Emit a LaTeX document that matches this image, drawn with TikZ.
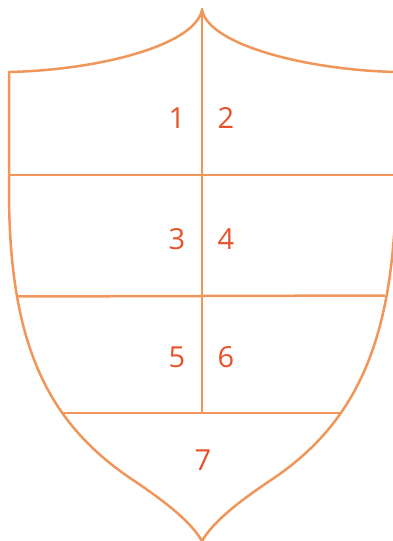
\documentclass[tikz,border=0pt]{standalone}
\usepackage{fontspec}
\setmainfont{Open Sans}
\definecolor{shieldline}{RGB}{240,150,90}
\definecolor{numred}{RGB}{232,82,42}
\begin{document}
\begin{tikzpicture}[x=1pt,y=-1pt,
  outline/.style={draw=shieldline,line width=2.5pt,line join=round},
  num/.style={text=numred,inner sep=0pt,font=\fontsize{29}{30}\selectfont}]
\useasboundingbox (0,0) rectangle (392,541);
% shield outline
\draw[outline] (202,10) .. controls (195,45) and (100,70) .. (9,72)
  -- (9,190) .. controls (9,340) and (45,420) .. (130,478)
  .. controls (160,498) and (190,520) .. (202,541)
  .. controls (214,520) and (244,498) .. (274,478)
  .. controls (362,418) and (396,330) .. (396,175)
  -- (396,72) .. controls (307,70) and (209,45) .. (202,10);
% dividing lines
\draw[outline] (202,8) -- (202,413);
\draw[outline] (9,175) -- (396,175);
\draw[outline] (16,296.5) -- (385,295.5);
\draw[outline] (62,413) -- (342,413);
% labels
\node[num] (n1) at (177,118) {1};
\node[num] (n2) at (226,118) {2};
\node[num] (n3) at (177,239) {3};
\node[num] (n4) at (226,239) {4};
\node[num] (n5) at (177,357) {5};
\node[num] (n6) at (226,357) {6};
\node[num] (n7) at (203,460) {7};
\end{tikzpicture}
\end{document}
